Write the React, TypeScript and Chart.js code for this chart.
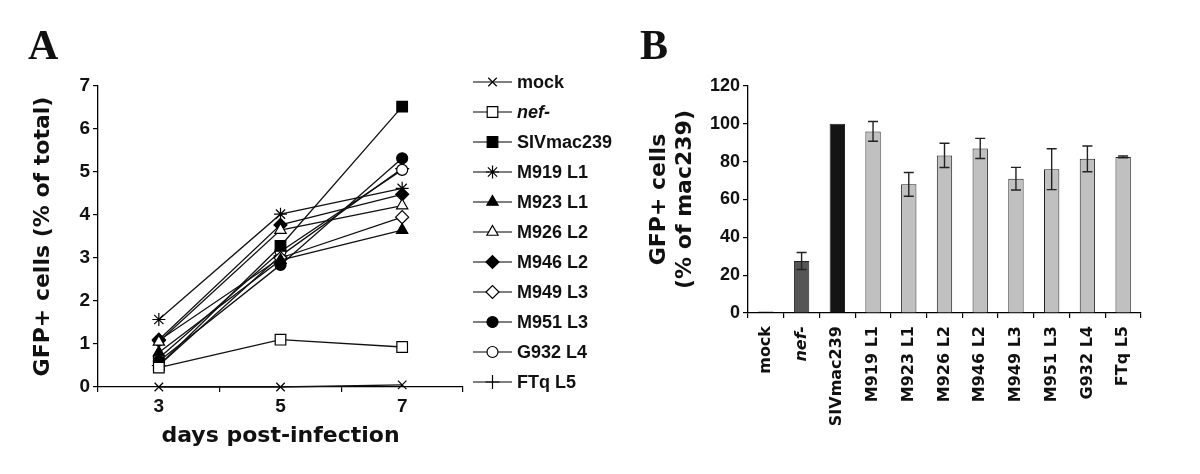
import React, { useEffect, useRef } from 'react';
import { Chart, registerables } from 'chart.js';
import { drawPoint } from 'chart.js/helpers';

Chart.register(...registerables);

// ---------- Panel A data ----------
const days = ['3', '5', '7'];
const seriesNames = ['mock', 'nef-', 'SIVmac239', 'M919 L1', 'M923 L1', 'M926 L2', 'M946 L2', 'M949 L3', 'M951 L3', 'G932 L4', 'FTq L5'];
const mockVals = [0, 0, 0.05];
const nefVals = [0.45, 1.1, 0.93];
const sivVals = [0.5, 3.28, 6.52];
const m919Vals = [1.57, 4.02, 4.62];
const m923Vals = [0.8, 2.95, 3.65];
const m926Vals = [1.05, 3.65, 4.22];
const m946Vals = [1.1, 3.77, 4.48];
const m949Vals = [1.08, 3.0, 3.95];
const m951Vals = [0.6, 2.84, 5.32];
const g932Vals = [0.67, 3.15, 5.05];
const ftqVals = [0.5, 3.05, 5.08];
const seriesValues = [mockVals, nefVals, sivVals, m919Vals, m923Vals, m926Vals, m946Vals, m949Vals, m951Vals, g932Vals, ftqVals];

// marker look for each series
const markerStyle = ['crossRot', 'rect', 'rect', 'star', 'triangle', 'triangle', 'rectRot', 'rectRot', 'circle', 'circle', 'cross'];
const markerFilled = [false, false, true, false, true, false, true, false, true, false, false];
const markerRadius = [6, 7.5, 7.5, 6.5, 6.5, 6.5, 6.5, 6.5, 5.5, 5.5, 7];

// ---------- Panel B data ----------
const strains = ['mock', 'nef-', 'SIVmac239', 'M919 L1', 'M923 L1', 'M926 L2', 'M946 L2', 'M949 L3', 'M951 L3', 'G932 L4', 'FTq L5'];
const pctOfMac = [0.8, 27.5, 100, 96, 68, 83.3, 87, 71, 76, 81.5, 82.5];
const pctErr = [0, 4.5, 0, 5.2, 6.3, 6.4, 5.3, 6, 10.8, 6.8, 0.5];
const barColors = ['#111111', '#555555', '#141414', '#c0c0c0', '#c0c0c0', '#c0c0c0', '#c0c0c0', '#c0c0c0', '#c0c0c0', '#c0c0c0', '#c0c0c0'];

const SANS = "'Liberation Sans', Arial, sans-serif";
const WIDE = "'DejaVu Sans', sans-serif";

const legendPlugin = {
  id: 'sideLegend',
  afterDraw(chart: any) {
    const ctx = chart.ctx;
    const x0 = chart.chartArea.right + 10;
    const top = chart.chartArea.top - 4;
    const step = 30;
    ctx.save();
    chart.data.datasets.forEach((ds: any, i: number) => {
      const y = top + i * step;
      ctx.strokeStyle = '#000';
      ctx.lineWidth = 1.2;
      ctx.beginPath();
      ctx.moveTo(x0, y);
      ctx.lineTo(x0 + 39, y);
      ctx.stroke();
      ctx.fillStyle = ds.pointBackgroundColor;
      ctx.strokeStyle = '#000';
      ctx.lineWidth = 1.2;
      drawPoint(ctx, { pointStyle: ds.pointStyle, radius: ds.pointRadius, borderWidth: 1.2, rotation: 0 } as any, x0 + 19.5, y);
      ctx.fillStyle = '#111';
      ctx.textBaseline = 'middle';
      ctx.textAlign = 'left';
      ctx.font = `${i === 1 ? 'italic ' : ''}bold 18px ${SANS}`;
      ctx.fillText(ds.label, x0 + 44, y + 1);
    });
    ctx.restore();
  },
};

const errorBarPlugin = {
  id: 'errorBars',
  afterDatasetsDraw(chart: any) {
    const ctx = chart.ctx;
    const meta = chart.getDatasetMeta(0);
    const yScale = chart.scales.y;
    ctx.save();
    ctx.strokeStyle = '#222';
    ctx.lineWidth = 1.4;
    meta.data.forEach((bar: any, i: number) => {
      const e = pctErr[i];
      if (!e) return;
      const v = pctOfMac[i];
      const yt = yScale.getPixelForValue(v + e);
      const yb = yScale.getPixelForValue(v - e);
      ctx.beginPath();
      ctx.moveTo(bar.x, yt);
      ctx.lineTo(bar.x, yb);
      ctx.moveTo(bar.x - 5, yt);
      ctx.lineTo(bar.x + 5, yt);
      ctx.moveTo(bar.x - 5, yb);
      ctx.lineTo(bar.x + 5, yb);
      ctx.stroke();
    });
    ctx.restore();
  },
};

function PanelA() {
  const ref = useRef<HTMLCanvasElement>(null);
  useEffect(() => {
    const chart = new Chart(ref.current!, {
      type: 'line',
      data: {
        labels: days,
        datasets: seriesNames.map((name, i) => ({
          label: name,
          data: seriesValues[i],
          borderColor: '#111',
          borderWidth: 1.3,
          pointStyle: markerStyle[i] as any,
          pointRadius: markerRadius[i],
          pointBorderWidth: 1.2,
          pointBorderColor: '#000',
          pointBackgroundColor: markerFilled[i] ? '#000' : '#fff',
          fill: false,
          tension: 0,
          clip: false as any,
        })),
      },
      options: {
        animation: false,
        responsive: false,
        layout: { padding: { top: 86, right: 177, left: 0, bottom: 0 } },
        plugins: { legend: { display: false }, tooltip: { enabled: false } },
        scales: {
          x: {
            type: 'category',
            offset: true,
            grid: { offset: true, drawOnChartArea: false, tickLength: 5, color: '#000', lineWidth: 1.2 },
            border: { color: '#000', width: 1.3 },
            ticks: { color: '#111', padding: 3, font: { family: SANS, weight: 'bold', size: 19 } },
            title: {
              display: true,
              text: 'days post-infection',
              color: '#111',
              font: { family: WIDE, weight: 'bold', size: 22 },
              padding: { top: 0, bottom: 25 },
            },
            afterFit: (s: any) => { s.height = 87; },
          },
          y: {
            min: 0,
            max: 7,
            grid: { drawOnChartArea: false, tickLength: 5, color: '#000', lineWidth: 1.2 },
            border: { color: '#000', width: 1.3 },
            ticks: { stepSize: 1, color: '#111', padding: 3, font: { family: SANS, weight: 'bold', size: 19 } },
            title: {
              display: true,
              text: 'GFP+ cells (% of total)',
              color: '#111',
              font: { family: WIDE, weight: 'bold', size: 22 },
              padding: { top: 30, bottom: 0 },
            },
            afterFit: (s: any) => { s.width = 98; },
          },
        },
      },
      plugins: [legendPlugin],
    });
    return () => chart.destroy();
  }, []);
  return <canvas ref={ref} width={640} height={474} style={{ position: 'absolute', left: 0, top: 0 }} />;
}

function PanelB() {
  const ref = useRef<HTMLCanvasElement>(null);
  useEffect(() => {
    const chart = new Chart(ref.current!, {
      type: 'bar',
      data: {
        labels: strains,
        datasets: [
          {
            data: pctOfMac,
            backgroundColor: barColors,
            borderColor: '#222',
            borderWidth: 1,
            categoryPercentage: 1,
            barPercentage: 0.43,
          },
        ],
      },
      options: {
        animation: false,
        responsive: false,
        layout: { padding: { top: 86, right: 59, left: 0, bottom: 0 } },
        plugins: { legend: { display: false }, tooltip: { enabled: false } },
        scales: {
          x: {
            grid: { offset: true, drawOnChartArea: false, tickLength: 5, color: '#000', lineWidth: 1.2 },
            border: { color: '#000', width: 1.3 },
            ticks: {
              autoSkip: false,
              maxRotation: 90,
              minRotation: 90,
              padding: 8,
              color: '#111',
              font: (c: any) => ({ family: WIDE, weight: 'bold', size: 16, style: c.index === 1 ? 'italic' : 'normal' }),
            },
            afterFit: (s: any) => { s.height = 161; },
          },
          y: {
            min: 0,
            max: 120,
            grid: { drawOnChartArea: false, tickLength: 5, color: '#000', lineWidth: 1.2 },
            border: { color: '#000', width: 1.3 },
            ticks: { stepSize: 20, color: '#111', padding: 3, font: { family: SANS, weight: 'bold', size: 18 } },
            title: {
              display: true,
              text: ['GFP+ cells', '(% of mac239)'],
              color: '#111',
              font: { family: WIDE, weight: 'bold', size: 22, lineHeight: 1.15 },
              padding: { top: 7, bottom: 0 },
            },
            afterFit: (s: any) => { s.width = 108; },
          },
        },
      },
      plugins: [errorBarPlugin],
    });
    return () => chart.destroy();
  }, []);
  return <canvas ref={ref} width={560} height={474} style={{ position: 'absolute', left: 640, top: 0 }} />;
}

const letterStyle: React.CSSProperties = {
  position: 'absolute',
  fontFamily: "'Liberation Serif', 'Times New Roman', serif",
  fontWeight: 'bold',
  fontSize: 42,
  lineHeight: '42px',
  color: '#111',
};

export default function App() {
  return (
    <div style={{ position: 'fixed', left: 0, top: 0, width: 1200, height: 474, background: '#fff', overflow: 'hidden' }}>
      <PanelA />
      <PanelB />
      <div style={{ ...letterStyle, left: 28, top: 24 }}>A</div>
      <div style={{ ...letterStyle, left: 640, top: 24 }}>B</div>
    </div>
  );
}
